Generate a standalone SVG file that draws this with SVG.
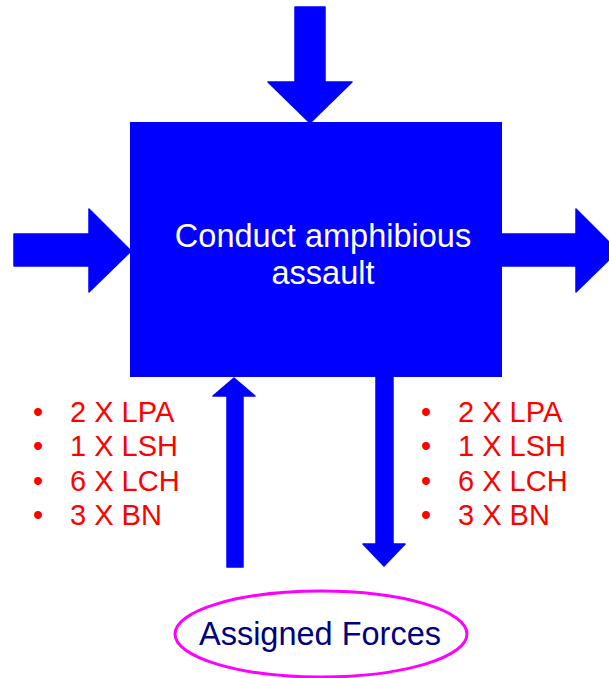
<svg xmlns="http://www.w3.org/2000/svg" width="609" height="678" viewBox="0 0 609 678">
  <style>
    .arrow { fill: #0000FF; stroke: #0000FF; stroke-width: 1.5; stroke-linejoin: round; }
    .box { fill: #0000FF; }
    .title { font-family: "Liberation Sans", Arial, sans-serif; font-size: 32.5px; fill: #FFFFFF; text-anchor: middle; }
    .list { font-family: "Liberation Sans", Arial, sans-serif; font-size: 29px; fill: #FF0000; }
    .oval { fill: #FFFFFF; stroke: #FF00FF; stroke-width: 3; }
    .oval-label { font-family: "Liberation Sans", Arial, sans-serif; font-size: 32.5px; fill: #000080; text-anchor: middle; }
  </style>

  <!-- Connectors: thick block arrows -->
  <g id="connectors">
    <!-- input from top -->
    <polygon class="arrow" points="295,7 325,7 325,82 352,82 310,123 268,82 295,82"/>
    <!-- input from left -->
    <polygon class="arrow" points="14,234 89,234 89,209 131,251 89,292 89,266 14,266"/>
    <!-- output to right -->
    <polygon class="arrow" points="500,234 576,234 576,209 618,251 576,292 576,266 500,266"/>
    <!-- forces going up into the activity -->
    <polygon class="arrow" points="227,567 243,567 243,396 255,396 234,378 213,396 227,396"/>
    <!-- forces released back down -->
    <polygon class="arrow" points="376,370 393,370 393,544 405,544 384,566 363,544 376,544"/>
  </g>

  <!-- Activity box -->
  <g id="activity">
    <rect class="box" x="130" y="122" width="372" height="255"/>
    <text class="title" x="323" y="247">Conduct amphibious</text>
    <text class="title" x="323" y="284">assault</text>
  </g>

  <!-- Forces going in -->
  <g id="forces-in" class="list">
    <text x="33" y="422">•</text><text x="70" y="422">2 X LPA</text>
    <text x="33" y="456">•</text><text x="70" y="456">1 X LSH</text>
    <text x="33" y="491">•</text><text x="70" y="491">6 X LCH</text>
    <text x="33" y="525">•</text><text x="70" y="525">3 X BN</text>
  </g>

  <!-- Forces coming out -->
  <g id="forces-out" class="list">
    <text x="421" y="422">•</text><text x="458" y="422">2 X LPA</text>
    <text x="421" y="456">•</text><text x="458" y="456">1 X LSH</text>
    <text x="421" y="491">•</text><text x="458" y="491">6 X LCH</text>
    <text x="421" y="525">•</text><text x="458" y="525">3 X BN</text>
  </g>

  <!-- Resource pool -->
  <g id="assigned-forces">
    <ellipse class="oval" cx="321" cy="634" rx="146" ry="43"/>
    <text class="oval-label" x="320" y="645">Assigned Forces</text>
  </g>
</svg>
